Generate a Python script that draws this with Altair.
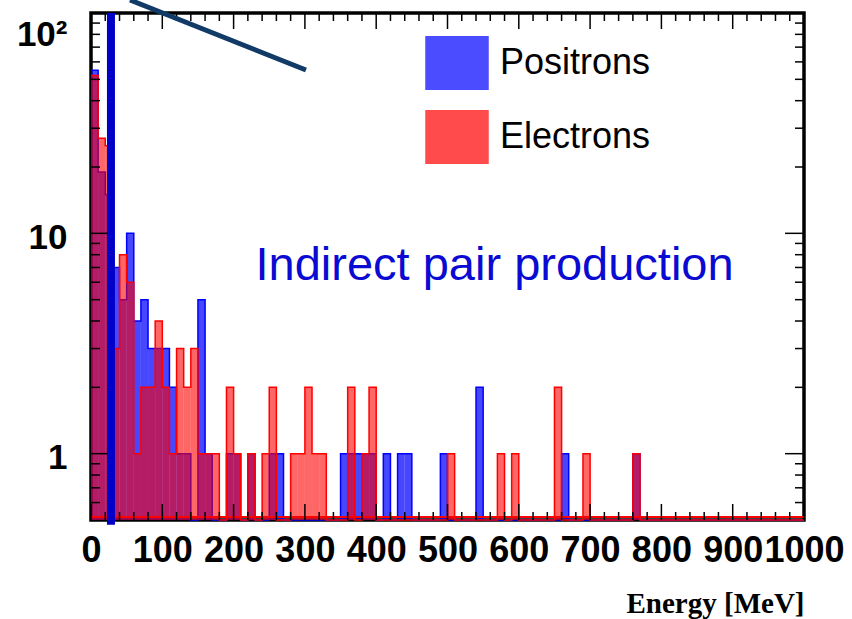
import altair as alt
import pandas as pd

# ---------------- data ----------------
bin_width = 10  # MeV

# Positrons: bin start (MeV) and counts
pos_bins = [0, 10, 20, 30, 40, 50, 60, 70, 80, 90,
            100, 110, 120, 130, 150, 160, 190, 200, 220, 250,
            260, 350, 360, 370, 380, 390, 410, 430, 440, 490,
            540, 660, 760]
pos_counts = [55, 19, 15, 7, 5, 10, 4, 5, 3, 3,
              3, 2, 1, 1, 5, 1, 1, 1, 1, 1,
              1, 1, 1, 1, 1, 1, 1, 1, 1, 1,
              2, 1, 1]

# Electrons: bin start (MeV) and counts
ele_bins = [0, 10, 20, 30, 40, 50, 60, 70, 80, 90,
            100, 110, 120, 130, 140, 150, 160, 170, 190, 200,
            220, 240, 250, 280, 290, 300, 310, 320, 360, 380,
            390, 500, 570, 590, 650, 690, 760]
ele_counts = [52, 27, 25, 3, 8, 6, 1, 2, 2, 4,
              2, 1, 3, 2, 3, 1, 1, 1, 2, 1,
              1, 1, 2, 1, 1, 2, 1, 1, 2, 1,
              2, 1, 1, 1, 2, 1, 1]

series_names = ["Positrons", "Electrons"]
series_colors = ["#0000ff", "#ff0000"]
series_opacity = {"Positrons": 0.72, "Electrons": 0.6}

x_tick_values = [0, 100, 200, 300, 400, 500, 600, 700, 800, 900, 1000]
x_minor_values = [v for v in range(0, 1001, 20) if v % 100 != 0]
y_tick_values = [1, 10, 100]
y_minor_values = [0.6, 0.7, 0.8, 0.9, 2, 3, 4, 5, 6, 7, 8, 9,
                  20, 30, 40, 50, 60, 70, 80, 90]

annotation_text = ["Indirect pair production"]
annotation_x = [566]
annotation_y = [6.15]

marker_x = [28, 28]          # thick blue vertical marker
marker_y = [100, 0.476]
pointer_x = [54.7, 301.5]    # dark diagonal pointer line
pointer_y = [114.5, 55.1]

x_title = "Energy [MeV]"

# ---------------- layout ----------------
W, H = 713, 507
LEFT, TOP = 91, 13
Y_MIN = 0.5

rows = []
for name, bins, counts in [("Positrons", pos_bins, pos_counts),
                           ("Electrons", ele_bins, ele_counts)]:
    for b, c in zip(bins, counts):
        rows.append({"series": name, "lo": b, "hi": b + bin_width,
                     "count": c, "base": Y_MIN})
hist = pd.DataFrame(rows)


# step outlines (empty bins sit on the axis floor, as ROOT draws them)
def outline(name, bins, counts):
    lookup = dict(zip(bins, counts))
    xs = list(range(0, 1000, bin_width))
    ys = [max(lookup.get(x, 0), Y_MIN) for x in xs]
    xs.append(1000)
    ys.append(ys[-1])
    return pd.DataFrame({"x": xs, "y": ys, "series": name})


pos_outline = outline("Positrons", pos_bins, pos_counts)
ele_outline = outline("Electrons", ele_bins, ele_counts)

xscale = alt.Scale(domain=[0, 1000], nice=False, zero=False)
yscale = alt.Scale(type="log", domain=[Y_MIN, 100], nice=False)
cscale = alt.Scale(domain=series_names, range=series_colors)

legend = alt.Legend(
    orient="none", legendX=334, legendY=18, title=None,
    symbolType="M-1,-0.85H1V0.85H-1Z", symbolSize=3844,
    symbolStrokeWidth=1.5, symbolOpacity=0.7,
    labelFont="Liberation Sans", labelFontSize=36, labelColor="black",
    labelOffset=11, rowPadding=12, padding=0, labelLimit=0,
)

x_axis = alt.Axis(values=x_tick_values, ticks=False, domain=False, grid=False, format="d",
                  labelFont="Liberation Sans", labelFontWeight="bold",
                  labelFontSize=36, labelColor="black", labelPadding=13,
                  labelFlush=False, labelOverlap=False,
                  title=x_title,
                  titleFont="Liberation Serif", titleFontWeight="bold",
                  titleFontSize=29, titleColor="black",
                  titleAlign="right", titleAnchor="end",
                  titleX=W, titleY=92, titleBaseline="alphabetic")
y_axis = alt.Axis(values=y_tick_values, ticks=False, domain=False, grid=False,
                  labelFont="Liberation Sans", labelFontWeight="bold",
                  labelFontSize=35, labelColor="black", labelPadding=24,
                  labelFlush=True, labelOverlap=False, labelOffset=4, title=None,
                  labelExpr="datum.value == 100 ? '10\u00b2' : datum.label")


def X(field):
    return alt.X(field, scale=xscale, axis=x_axis, title=x_title)


def Y(field):
    return alt.Y(field, scale=yscale, axis=y_axis, title=None)


def fill_layer(name):
    return alt.Chart(hist).transform_filter(alt.datum.series == name).mark_rect(
        fillOpacity=series_opacity[name], strokeWidth=0).encode(
        x=X("lo:Q"),
        x2="hi:Q",
        y=Y("count:Q"),
        y2="base:Q",
        fill=alt.Fill("series:N", scale=cscale, legend=legend, sort=series_names),
        stroke=alt.Stroke("series:N", scale=cscale, legend=legend, sort=series_names),
    )


def step_layer(df, color):
    return alt.Chart(df).mark_line(interpolate="step-after", color=color,
                                   strokeWidth=1.5).encode(x=X("x:Q"), y=Y("y:Q"))


# inner ticks (ROOT style) on all four sides
xmaj = pd.DataFrame({"v": x_tick_values})
xmin = pd.DataFrame({"v": x_minor_values})
ymaj = pd.DataFrame({"v": y_tick_values})
ymin = pd.DataFrame({"v": y_minor_values})


def xticks(df, length):
    bottom = alt.Chart(df).mark_rule(color="black", strokeWidth=1.5).encode(
        x=X("v:Q"), y=alt.value(H), y2=alt.value(H - length))
    top = alt.Chart(df).mark_rule(color="black", strokeWidth=1.5).encode(
        x=X("v:Q"), y=alt.value(0), y2=alt.value(length))
    return [bottom, top]


def yticks(df, length):
    left = alt.Chart(df).mark_rule(color="black", strokeWidth=1.5).encode(
        y=Y("v:Q"), x=alt.value(0), x2=alt.value(length))
    right = alt.Chart(df).mark_rule(color="black", strokeWidth=1.5).encode(
        y=Y("v:Q"), x=alt.value(W), x2=alt.value(W - length))
    return [left, right]


tick_layers = xticks(xmaj, 16) + xticks(xmin, 8) + yticks(ymaj, 19) + yticks(ymin, 9)

# red zero-level outline along the bottom
bottom_line = alt.Chart(pd.DataFrame({"x": [0], "x2": [1000]})).mark_rule(
    color="#ff0000", strokeWidth=2).encode(
    x=X("x:Q"), x2="x2:Q", y=alt.value(H - 3))

ann = alt.Chart(pd.DataFrame({"t": annotation_text, "x": annotation_x, "y": annotation_y})).mark_text(
    font="Liberation Sans", fontSize=47, color="#0a0ad2", align="center", baseline="alphabetic").encode(
    x=X("x:Q"), y=Y("y:Q"), text="t:N")

marker = alt.Chart(pd.DataFrame({"x": marker_x, "y": marker_y})).mark_line(
    color="#0000c8", strokeWidth=8, strokeCap="butt", clip=False).encode(
    x=X("x:Q"), y=Y("y:Q"))

pointer = alt.Chart(pd.DataFrame({"x": pointer_x, "y": pointer_y})).mark_line(
    color="#123a66", strokeWidth=5, strokeCap="butt", clip=False).encode(
    x=X("x:Q"), y=Y("y:Q"))

chart = alt.layer(
    fill_layer("Positrons"), step_layer(pos_outline, "#0000ff"),
    fill_layer("Electrons"), step_layer(ele_outline, "#ff0000"),
    bottom_line, *tick_layers, ann, marker, pointer,
).properties(
    width=W, height=H,
    autosize=alt.AutoSizeParams(type="none"),
    padding={"left": LEFT, "top": TOP, "right": 852 - LEFT - W, "bottom": 619 - TOP - H},
    background="white",
).configure_view(stroke="black", strokeWidth=3.5)

chart.save("out.html", embed_options={"renderer": "svg", "actions": False})
